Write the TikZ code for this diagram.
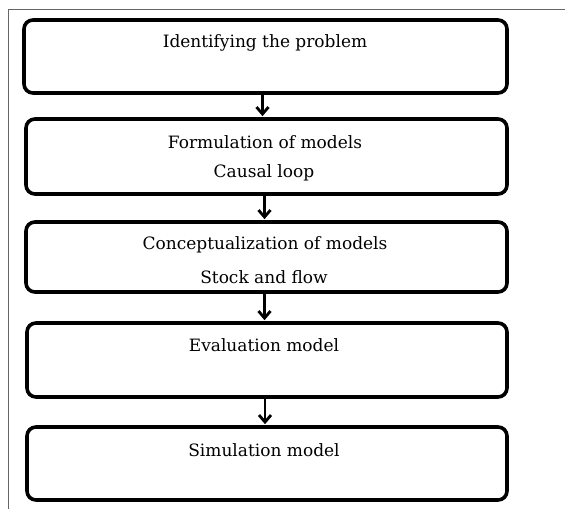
\documentclass[tikz,border=0pt]{standalone}
\usepackage{fontspec}
\setmainfont{DejaVu Serif}
\usetikzlibrary{arrows.meta}
\begin{document}
\begin{tikzpicture}[x=1pt,y=1pt,
  stepbox/.style={draw=black,line width=3.6pt,rounded corners=9pt,inner sep=0pt},
  lbl/.style={font=\fontsize{17}{19}\selectfont,inner sep=0pt,anchor=center},
  arr/.style={line width=2.6pt,-{Straight Barb[length=7pt,width=12pt,line width=2.8pt]}}]
\useasboundingbox (0,0) rectangle (565,-509);
\draw[gray!80!black,line width=1pt] (8.5,-509) -- (8.5,-9) -- (565,-9);
\node[stepbox,minimum width=483pt,minimum height=73pt] (b1) at (265.5,-56.5) {};
\node[stepbox,minimum width=481pt,minimum height=75pt] (b2) at (266.5,-156.5) {};
\node[stepbox,minimum width=481pt,minimum height=70pt] (b3) at (266.5,-257) {};
\node[stepbox,minimum width=480pt,minimum height=74pt] (b4) at (267,-360) {};
\node[stepbox,minimum width=480pt,minimum height=73pt] (b5) at (267,-463.5) {};
\node[lbl] (t1) at (265,-43) {Identifying the problem};
\node[lbl] (t2a) at (265,-142) {Formulation of models};
\node[lbl] (t2b) at (264,-173) {Causal loop};
\node[lbl] (t3a) at (265,-245) {Conceptualization of models};
\node[lbl] (t3b) at (264,-277) {Stock and flow};
\node[lbl] (t4) at (264,-345) {Evaluation model};
\node[lbl] (t5) at (264,-450) {Simulation model};
\draw[arr] ([xshift=-3pt]b1.south) -- ([xshift=-3pt,yshift=1pt]b1.south |- b2.north);
\draw[arr] ([xshift=-2pt]b2.south) -- ([xshift=-2pt,yshift=1pt]b2.south |- b3.north);
\draw[arr] ([xshift=-2pt]b3.south) -- ([xshift=-2pt,yshift=1pt]b3.south |- b4.north);
\draw[arr] ([xshift=-2pt]b4.south) -- ([xshift=-2pt,yshift=1pt]b4.south |- b5.north);
\end{tikzpicture}
\end{document}
